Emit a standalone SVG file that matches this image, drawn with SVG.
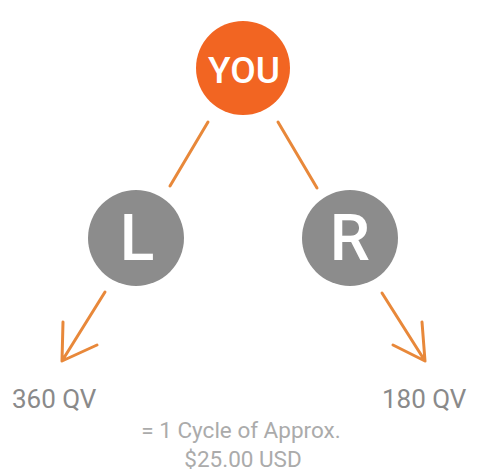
<svg xmlns="http://www.w3.org/2000/svg" width="478" height="472" viewBox="0 0 478 472">
<style>
.line{stroke:#e8883a;stroke-width:3;fill:none;stroke-linecap:round;stroke-linejoin:round}
.node-text{font-family:Roboto,"Liberation Sans",sans-serif;fill:#fff;text-anchor:middle;font-weight:500}
.qv{font-family:Roboto,"Liberation Sans",sans-serif;fill:#8a8a8a;font-size:26px}
.note{font-family:Roboto,"Liberation Sans",sans-serif;fill:#ababab;font-size:22.5px;text-anchor:middle}
</style>
<rect width="478" height="472" fill="#fff"/>
<g id="connectors">
<line class="line" x1="208" y1="122" x2="170" y2="186"/>
<line class="line" x1="278" y1="122" x2="317" y2="188"/>
<path class="line" d="M105 292 L62 361 M63 322 L62 361 L97 345"/>
<path class="line" d="M382 293 L425 361 M422 322 L425 361 L393 345"/>
</g>
<g id="you">
<circle cx="243" cy="68" r="47" fill="#f26522"/>
<text class="node-text" x="244" y="83" font-size="37">YOU</text>
</g>
<g id="left">
<circle cx="136" cy="238" r="48" fill="#8c8c8c"/>
<text class="node-text" x="137" y="260" font-size="64">L</text>
</g>
<g id="right">
<circle cx="350" cy="238" r="48" fill="#8c8c8c"/>
<text class="node-text" x="350" y="260" font-size="64">R</text>
</g>
<g id="labels">
<text class="qv" x="12" y="408">360 QV</text>
<text class="qv" x="382" y="408">180 QV</text>
<text class="note" x="241" y="438">= 1 Cycle of Approx.</text>
<text class="note" x="243" y="467">$25.00 USD</text>
</g>
</svg>
